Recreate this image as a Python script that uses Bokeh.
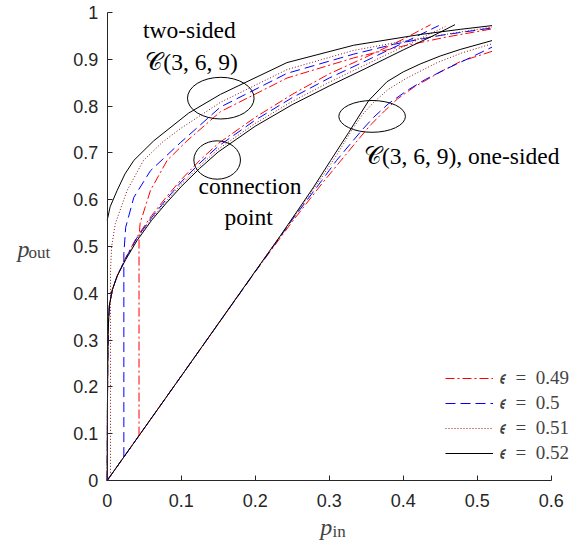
from bokeh.plotting import figure
from bokeh.models import (Range1d, FixedTicker, CustomJSTickFormatter, Label,
                          Legend, LegendItem)
from bokeh.embed import file_html
from bokeh.resources import INLINE

eps_labels = ["𝜖\u2002=\u20020.49", "𝜖\u2002=\u20020.5", "𝜖\u2002=\u20020.51", "𝜖\u2002=\u20020.52"]

# two-sided C(3,6,9): each starts with the vertical jump from the one-sided line
two_x_049 = [0.043, 0.043, 0.0445, 0.0585, 0.081, 0.108, 0.153, 0.243, 0.333, 0.396, 0.46, 0.52]
two_y_049 = [0.096, 0.52, 0.55, 0.62, 0.684, 0.726, 0.788, 0.860, 0.903, 0.927, 0.948, 0.965]
two_x_050 = [0.0225, 0.0225, 0.025, 0.036, 0.0585, 0.099, 0.153, 0.243, 0.333, 0.387, 0.45, 0.52]
two_y_050 = [0.050, 0.485, 0.541, 0.605, 0.662, 0.722, 0.798, 0.870, 0.911, 0.932, 0.951, 0.967]
two_x_051 = [0.0045, 0.0045, 0.006, 0.011, 0.027, 0.049, 0.074, 0.099, 0.153, 0.243, 0.333, 0.405, 0.52]
two_y_051 = [0.010, 0.449, 0.50, 0.549, 0.62, 0.684, 0.722, 0.752, 0.808, 0.878, 0.919, 0.940, 0.969]
two_x_052 = [0.0, 0.004, 0.0135, 0.024, 0.036, 0.063, 0.110, 0.153, 0.243, 0.333, 0.423, 0.477, 0.52]
two_y_052 = [0.556, 0.585, 0.62, 0.655, 0.684, 0.726, 0.785, 0.825, 0.893, 0.930, 0.953, 0.964, 0.972]

# curves through the connection point
con_x_049 = [0.0, 0.0003, 0.0008, 0.0015, 0.003, 0.007, 0.0135, 0.025, 0.04, 0.06, 0.08, 0.10, 0.125, 0.15, 0.2, 0.25, 0.3, 0.35, 0.4, 0.437]
con_y_049 = [0.0, 0.15, 0.26, 0.33, 0.375, 0.408, 0.437, 0.476, 0.52, 0.566, 0.606, 0.643, 0.684, 0.72, 0.776, 0.825, 0.869, 0.905, 0.943, 0.974]
con_x_050 = [0.0, 0.0003, 0.0008, 0.0015, 0.003, 0.007, 0.0135, 0.025, 0.04, 0.06, 0.08, 0.10, 0.125, 0.15, 0.2, 0.25, 0.3, 0.35, 0.4, 0.448]
con_y_050 = [0.0, 0.15, 0.26, 0.33, 0.375, 0.408, 0.437, 0.475, 0.518, 0.562, 0.601, 0.638, 0.678, 0.714, 0.77, 0.818, 0.86, 0.897, 0.935, 0.972]
con_x_051 = [0.0, 0.0003, 0.0008, 0.0015, 0.003, 0.007, 0.0135, 0.025, 0.04, 0.06, 0.08, 0.10, 0.125, 0.15, 0.2, 0.25, 0.3, 0.35, 0.4, 0.457]
con_y_051 = [0.0, 0.15, 0.26, 0.33, 0.375, 0.408, 0.437, 0.474, 0.515, 0.559, 0.597, 0.633, 0.672, 0.708, 0.763, 0.81, 0.851, 0.889, 0.927, 0.970]
con_x_052 = [0.0, 0.0003, 0.0008, 0.0015, 0.003, 0.007, 0.0135, 0.025, 0.04, 0.06, 0.08, 0.10, 0.125, 0.15, 0.2, 0.25, 0.3, 0.35, 0.4, 0.44, 0.47]
con_y_052 = [0.0, 0.15, 0.26, 0.33, 0.375, 0.408, 0.437, 0.472, 0.512, 0.556, 0.593, 0.628, 0.667, 0.702, 0.757, 0.803, 0.843, 0.881, 0.92, 0.95, 0.974]

# one-sided C(3,6,9)
one_x_049 = [0.0, 0.1, 0.2, 0.25, 0.29, 0.315, 0.338, 0.356, 0.375, 0.392, 0.414, 0.45, 0.477, 0.52]
one_y_049 = [0.0, 0.223, 0.446, 0.553, 0.634, 0.682, 0.726, 0.76, 0.79, 0.815, 0.84, 0.873, 0.895, 0.917]
one_x_050 = [0.0, 0.1, 0.2, 0.25, 0.29, 0.31, 0.329, 0.345, 0.36, 0.38, 0.405, 0.43, 0.459, 0.49, 0.52]
one_y_050 = [0.0, 0.223, 0.446, 0.557, 0.641, 0.684, 0.72, 0.75, 0.776, 0.805, 0.833, 0.857, 0.88, 0.903, 0.926]
one_x_051 = [0.0, 0.1, 0.2, 0.25, 0.29, 0.31, 0.331, 0.345, 0.36, 0.38, 0.405, 0.446, 0.48, 0.52]
one_y_051 = [0.0, 0.223, 0.447, 0.558, 0.648, 0.695, 0.75, 0.782, 0.808, 0.836, 0.86, 0.893, 0.914, 0.933]
one_x_052 = [0.0, 0.1, 0.2, 0.234, 0.279, 0.302, 0.3265, 0.3535, 0.378, 0.40, 0.423, 0.45, 0.477, 0.52]
one_y_052 = [0.0, 0.223, 0.447, 0.523, 0.627, 0.684, 0.744, 0.812, 0.852, 0.873, 0.89, 0.907, 0.921, 0.94]

x_ticks = [0, 0.1, 0.2, 0.3, 0.4, 0.5, 0.6]
y_ticks = [0, 0.1, 0.2, 0.3, 0.4, 0.5, 0.6, 0.7, 0.8, 0.9, 1]

styles = [
    dict(line_color="#ff0000", line_dash="9 3 2 3"),
    dict(line_color="#0000ff", line_dash="10 5"),
    dict(line_color="#8c1414", line_dash="1 2"),
    dict(line_color="#000000", line_dash="solid"),
]

series = [
    (two_x_049, two_y_049, con_x_049, con_y_049, one_x_049, one_y_049),
    (two_x_050, two_y_050, con_x_050, con_y_050, one_x_050, one_y_050),
    (two_x_051, two_y_051, con_x_051, con_y_051, one_x_051, one_y_051),
    (two_x_052, two_y_052, con_x_052, con_y_052, one_x_052, one_y_052),
]

# the frame spans the whole canvas; axes sit at p_in = 0 and p_out = 0
PX_X, PX_Y = 740.0, 468.0
x0_px, y0_px = 106.7, 480.0
p = figure(width=584, height=540, output_backend="svg", toolbar_location=None,
           x_range=Range1d(-x0_px / PX_X, (584 - x0_px) / PX_X),
           y_range=Range1d(-(540 - y0_px) / PX_Y, y0_px / PX_Y),
           min_border=0)
p.outline_line_color = None
p.grid.visible = False
p.background_fill_color = "white"

tick_fmt = CustomJSTickFormatter(code="return String(Number(tick.toFixed(2)));")
for ax, ticks, standoff, bounds in ((p.xaxis[0], x_ticks, 13, (0, 0.6)),
                                    (p.yaxis[0], y_ticks, 9, (0, 1))):
    ax.fixed_location = 0
    ax.bounds = bounds
    ax.ticker = FixedTicker(ticks=ticks)
    ax.formatter = tick_fmt
    ax.major_tick_in = 5
    ax.major_tick_out = 0
    ax.minor_tick_line_color = None
    ax.axis_line_color = "#262626"
    ax.major_tick_line_color = "#262626"
    ax.major_label_text_color = "#262626"
    ax.major_label_text_font = "Liberation Sans"
    ax.major_label_text_font_size = "18px"
    ax.major_label_standoff = standoff

items = []
for (tx, ty, cx, cy, ox, oy), st, lab in zip(series, styles, eps_labels):
    r1 = p.line(tx, ty, line_width=1, **st)
    p.line(cx, cy, line_width=1, **st)
    p.line(ox, oy, line_width=1, **st)
    items.append(LegendItem(label=lab, renderers=[r1]))

# circled regions
p.ellipse(x=[0.1535, 0.1486, 0.358], y=[0.817, 0.6848, 0.778],
          width=[0.090, 0.063, 0.090], height=[0.089, 0.082, 0.068],
          fill_color=None, line_color="black", line_width=1)

legend = Legend(items=items, location=(445, 76), glyph_width=48, glyph_height=20,
                label_height=20, spacing=3, label_standoff=7, padding=0, margin=0,
                border_line_color=None, background_fill_alpha=0,
                label_text_font="Liberation Serif", label_text_font_size="19px")
p.add_layout(legend)

serif = "Liberation Serif"
notes = [
    (0.111, 0.962, "two-sided"),
    (0.114, 0.895, "𝒞(3, 6, 9)"),
    (0.193, 0.630, "connection"),
    (0.191, 0.562, "point"),
    (0.479, 0.694, "𝒞(3, 6, 9), one-sided"),
]
for x, y, t in notes:
    p.add_layout(Label(x=x, y=y, text=t, text_align="center", text_baseline="middle",
                       text_font=serif, text_font_size="23.5px", text_color="black"))

# axis titles: italic p with upright subscripts
p.add_layout(Label(x=0.288, y=-0.1004, text="p", text_font=serif, text_font_size="24px",
                   text_font_style="italic", text_baseline="alphabetic"))
p.add_layout(Label(x=0.3045, y=-0.109, text="in", text_font=serif, text_font_size="17px",
                   text_baseline="alphabetic"))
p.add_layout(Label(x=-0.1212, y=0.4957, text="p", text_font=serif, text_font_size="24px",
                   text_font_style="italic", text_baseline="alphabetic"))
p.add_layout(Label(x=-0.1065, y=0.487, text="out", text_font=serif, text_font_size="17px",
                   text_baseline="alphabetic"))

open("out.html", "w").write(file_html(p, INLINE))
